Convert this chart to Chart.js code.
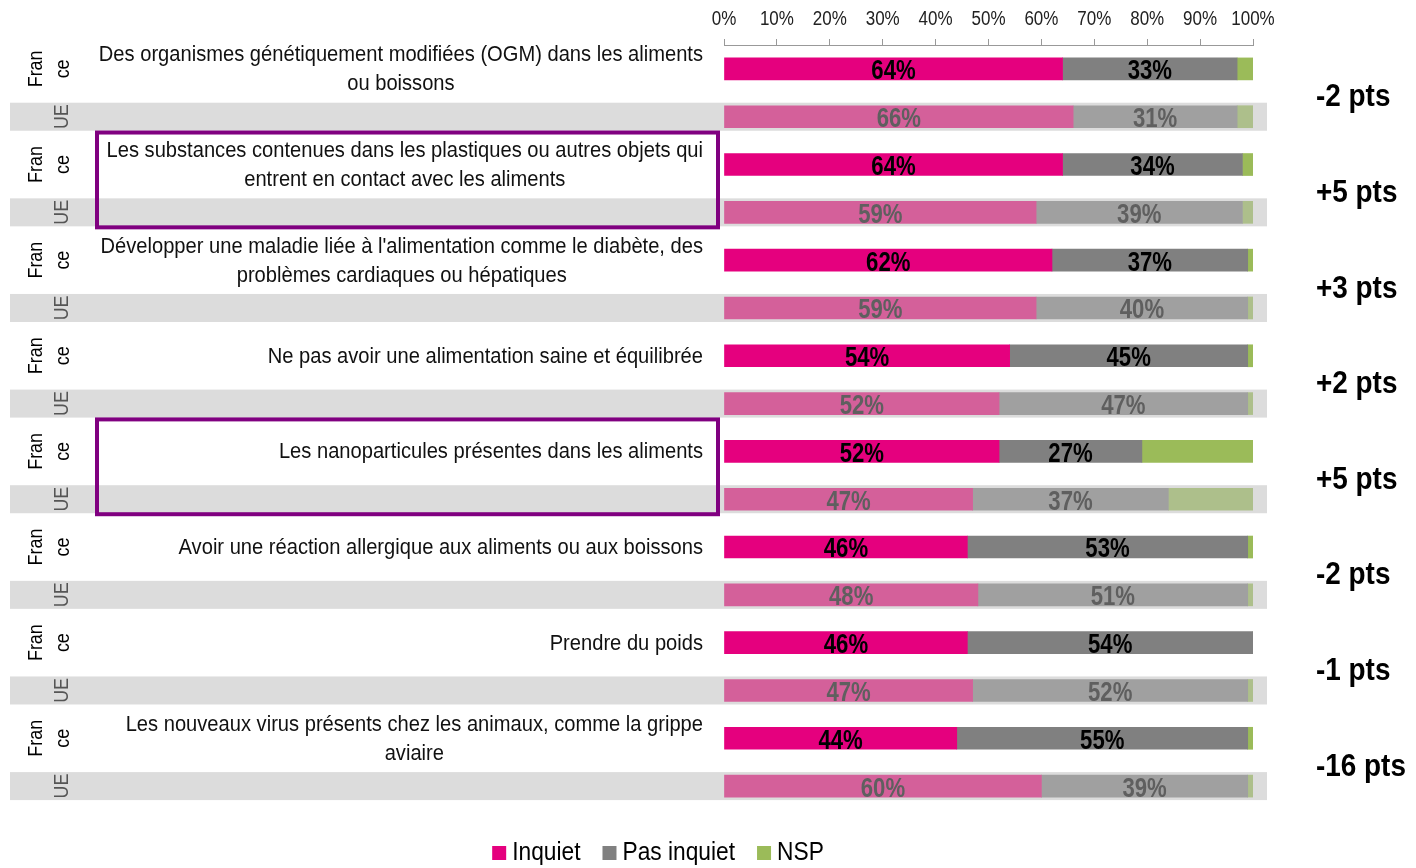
<!DOCTYPE html>
<html>
<head>
<meta charset="utf-8">
<script src="https://cdn.jsdelivr.net/npm/chart.js@4.4.1/dist/chart.umd.min.js"></script>
<style>
  html, body { margin: 0; padding: 0; background: #fff; }
  #wrap { width: 1416px; height: 868px; position: relative; }
</style>
</head>
<body>
<div id="wrap"><canvas id="chart" width="1416" height="868"></canvas></div>
<script>
// Data
const categories = [
    ['Des organismes génétiquement modifiées (OGM) dans les aliments', 'ou boissons'],
    ['Les substances contenues dans les plastiques ou autres objets qui', 'entrent en contact avec les aliments'],
    ['Développer une maladie liée à l\'alimentation comme le diabète, des', 'problèmes cardiaques ou hépatiques'],
    ['Ne pas avoir une alimentation saine et équilibrée'],
    ['Les nanoparticules présentes dans les aliments'],
    ['Avoir une réaction allergique aux aliments ou aux boissons'],
    ['Prendre du poids'],
    ['Les nouveaux virus présents chez les animaux, comme la grippe', 'aviaire']
];
const zones = ['France', 'UE'];
const inquietFR = [64, 64, 62, 54, 52, 46, 46, 44];
const inquietUE = [66, 59, 59, 52, 47, 48, 47, 60];
const pasInquietFR = [33, 34, 37, 45, 27, 53, 54, 55];
const pasInquietUE = [31, 39, 40, 47, 37, 51, 52, 39];
const nspFR = [3, 2, 1, 1, 21, 1, 0, 1];
const nspUE = [3, 2, 1, 1, 16, 1, 1, 1];
const ecarts = ['-2 pts', '+5 pts', '+3 pts', '+2 pts', '+5 pts', '-2 pts', '-1 pts', '-16 pts'];
const highlighted = [1, 4];
const seriesNames = ['Inquiet', 'Pas inquiet', 'NSP'];
const xTicks = [0, 10, 20, 30, 40, 50, 60, 70, 80, 90, 100];

// Arial Narrow is not available: Liberation Sans squeezed horizontally
const SANS = '"Liberation Sans", Arial, sans-serif';
const colorsFR = ['#e5007e', '#808080', '#9bbb59'];
const colorsUE = ['#d4609a', '#a0a0a0', '#adbf8b'];

// one row per category and zone: France then UE
const rowLabels = [];
categories.forEach((c, i) => zones.forEach(z => rowLabels.push(i + '-' + z)));

function interleave(fr, ue) {
    const out = [];
    fr.forEach((v, i) => { out.push(v); out.push(ue[i]); });
    return out;
}
function rowColors(k) {
    return rowLabels.map((r, i) => i % 2 === 0 ? colorsFR[k] : colorsUE[k]);
}

const datasets = [
    { label: seriesNames[0], data: interleave(inquietFR, inquietUE), backgroundColor: rowColors(0) },
    { label: seriesNames[1], data: interleave(pasInquietFR, pasInquietUE), backgroundColor: rowColors(1) },
    { label: seriesNames[2], data: interleave(nspFR, nspUE), backgroundColor: rowColors(2) }
];
datasets.forEach(d => { d.barThickness = 22; d.borderWidth = 0; });

// draw squeezed text (narrow font look), optional rotation
function narrowText(ctx, text, x, y, align, font, color, squeeze, rotate) {
    ctx.save();
    ctx.translate(x, y);
    if (rotate) ctx.rotate(rotate);
    ctx.scale(squeeze, 1);
    ctx.font = font;
    ctx.fillStyle = color;
    ctx.textAlign = align;
    ctx.textBaseline = 'middle';
    ctx.fillText(text, 0, 0);
    ctx.restore();
}
function narrowWidth(ctx, text, font, squeeze) {
    ctx.save();
    ctx.font = font;
    const w = ctx.measureText(text).width * squeeze;
    ctx.restore();
    return w;
}

const decorPlugin = {
    id: 'decor',
    beforeDatasetsDraw(chart) {
        const ctx = chart.ctx;
        const y = chart.scales.y;
        const x = chart.scales.x;
        ctx.save();
        // x tick labels
        xTicks.forEach(v => narrowText(ctx, v + '%', x.getPixelForValue(v), 19, 'center', '20px ' + SANS, '#222', 0.85));
        rowLabels.forEach((r, i) => {
            const yc = y.getPixelForValue(i);
            if (i % 2 === 1) {
                ctx.fillStyle = '#dcdcdc';
                ctx.fillRect(10, yc - 14, 1257, 28);
                narrowText(ctx, 'UE', 62, yc, 'center', '21px ' + SANS, '#555', 0.85, -Math.PI / 2);
            } else {
                narrowText(ctx, 'Fran', 36, yc, 'center', '21px ' + SANS, '#000', 0.85, -Math.PI / 2);
                narrowText(ctx, 'ce', 63, yc, 'center', '21px ' + SANS, '#000', 0.85, -Math.PI / 2);
            }
        });
        // category labels: block right-aligned, lines centred within the block
        const catFont = '22px ' + SANS;
        const catSq = 0.915;
        categories.forEach((lines, c) => {
            const yc = y.getPixelForValue(c * 2);
            const lh = 29;
            const top = yc + 1 - (lines.length - 1) * lh / 2;
            const blockW = Math.max(...lines.map(t => narrowWidth(ctx, t, catFont, catSq)));
            const cx = 703 - blockW / 2;
            lines.forEach((t, k) => narrowText(ctx, t, cx, top + k * lh, 'center', catFont, '#111', catSq));
        });
        ctx.restore();
    },
    afterDatasetsDraw(chart) {
        const ctx = chart.ctx;
        const y = chart.scales.y;
        ctx.save();
        [0, 1].forEach(d => {
            const meta = chart.getDatasetMeta(d);
            meta.data.forEach((bar, i) => {
                const v = chart.data.datasets[d].data[i];
                if (v < 5) return;
                narrowText(ctx, v + '%', (bar.x + bar.base) / 2, bar.y + 3, 'center',
                    'bold 27px ' + SANS, i % 2 === 0 ? '#000' : '#5f5f5f', 0.82);
            });
        });
        // highlight boxes
        ctx.strokeStyle = '#800080';
        ctx.lineWidth = 4;
        highlighted.forEach(c => {
            const top = y.getPixelForValue(c * 2) - 32;
            const bottom = y.getPixelForValue(c * 2 + 1) + 15;
            ctx.strokeRect(97, top, 621, bottom - top);
        });
        // France - UE differences
        ecarts.forEach((t, c) => {
            const yc = (y.getPixelForValue(c * 2) + y.getPixelForValue(c * 2 + 1)) / 2;
            narrowText(ctx, t, 1316, yc + 5, 'left', 'bold 31px ' + SANS, '#000', 0.9);
        });
        // legend
        const font = '25px ' + SANS;
        const sq = 0.91;
        const box = 14, gapBox = 6, gapItem = 22;
        const widths = seriesNames.map(n => box + gapBox + narrowWidth(ctx, n, font, sq));
        const total = widths.reduce((a, b) => a + b, 0) + gapItem * (seriesNames.length - 1);
        let lx = 658 - total / 2;
        const ly = 853;
        seriesNames.forEach((n, k) => {
            ctx.fillStyle = colorsFR[k];
            ctx.fillRect(lx, ly - box / 2, box, box);
            narrowText(ctx, n, lx + box + gapBox, ly, 'left', font, '#000', sq);
            lx += widths[k] + gapItem;
        });
        ctx.restore();
    }
};

new Chart(document.getElementById('chart').getContext('2d'), {
    type: 'bar',
    data: { labels: rowLabels, datasets: datasets },
    plugins: [decorPlugin],
    options: {
        indexAxis: 'y',
        responsive: false,
        devicePixelRatio: 1,
        animation: false,
        layout: { padding: { left: 0, right: 100, top: 0, bottom: 58 } },
        scales: {
            x: {
                type: 'linear',
                position: 'top',
                stacked: true,
                min: 0,
                max: 100,
                ticks: { stepSize: 10, display: false },
                grid: { drawOnChartArea: false, drawTicks: true, tickLength: 6, color: '#999' },
                border: { display: true, color: '#999' },
                afterFit: function (s) { s.height = 45; }
            },
            y: {
                stacked: true,
                ticks: { display: false },
                grid: { display: false },
                border: { display: false },
                afterFit: function (s) { s.width = 724; }
            },
            yRight: {
                type: 'category',
                position: 'right',
                labels: rowLabels,
                ticks: { display: false },
                grid: { display: false },
                border: { display: false },
                afterFit: function (s) { s.width = 63; }
            }
        },
        plugins: {
            tooltip: { enabled: false },
            legend: { display: false }
        }
    }
});
</script>
</body>
</html>
